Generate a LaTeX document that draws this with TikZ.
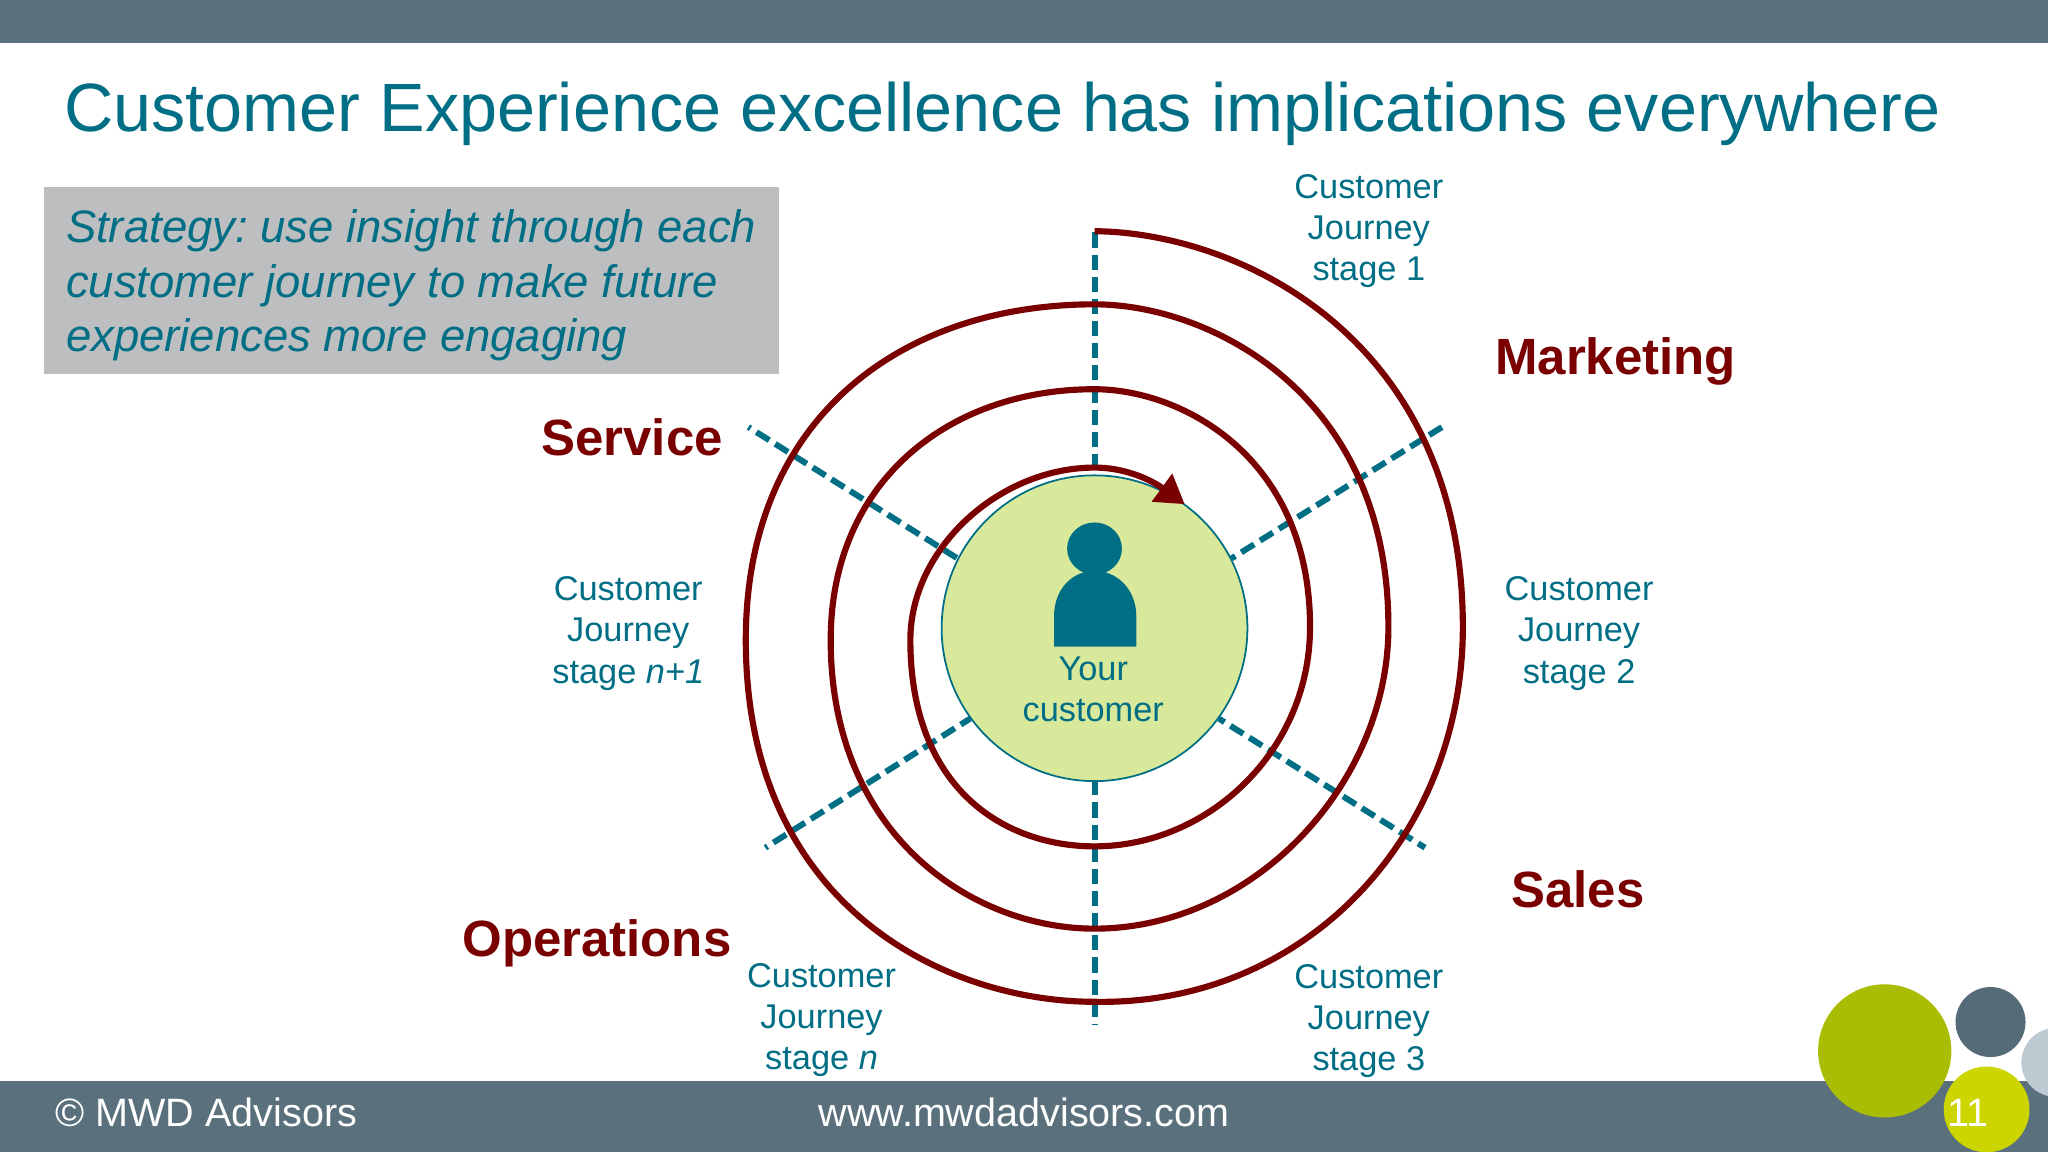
\documentclass[tikz,border=0pt]{standalone}
\usepackage{fontspec}
\setmainfont{Liberation Sans}
\usetikzlibrary{arrows.meta}

\definecolor{barslate}{HTML}{5A717D}
\definecolor{deepteal}{HTML}{006E85}
\definecolor{darkmaroon}{HTML}{7A0000}
\definecolor{palegreen}{HTML}{D9E99B}
\definecolor{boxgrey}{HTML}{BDBEC0}
\definecolor{olivegreen}{HTML}{AABD05}
\definecolor{limegreen}{HTML}{CDD500}
\definecolor{paleslate}{HTML}{BECAD2}

\tikzset{
  stagelabel/.style={text=deepteal,align=center,inner sep=0pt,font=\fontsize{9.77}{11.7}\selectfont},
  deptlabel/.style={text=darkmaroon,inner sep=0pt,font=\fontsize{14.5}{16}\selectfont\bfseries},
  footlabel/.style={text=white,inner sep=0pt,font=\fontsize{11.25}{13}\selectfont},
  spoke/.style={draw=deepteal,line width=1.7pt,dash pattern=on 4.3pt off 2pt},
  spiral/.style={draw=darkmaroon,line width=1.75pt,line join=round}
}

\begin{document}
\frenchspacing
\begin{tikzpicture}[x=0.013061cm,y=-0.013061cm]
\useasboundingbox (0,0) rectangle (1568,882);
\clip (0,0) rectangle (1568,882);
\fill[white] (0,0) rectangle (1568,882);
\fill[barslate] (0,0) rectangle (1568,33);
\fill[barslate] (0,828) rectangle (1568,882);

\node[text=deepteal,inner sep=0pt,font=\fontsize{19.44}{22}\selectfont] (title) at (767.5,87) {Customer Experience excellence has implications everywhere};

\node[fill=boxgrey,anchor=north west,minimum width=209.2pt,minimum height=53.1pt,inner sep=0pt] (strategybox) at (33,143) {};
\node[anchor=west,inner sep=0pt,align=left,text=deepteal,font=\fontsize{12.94}{15.55}\selectfont\itshape] (strategy) at (50,218.5) {Strategy: use insight through each\\customer journey to make future\\experiences more engaging};

% hub and spokes
\node[circle,draw=deepteal,line width=0.5pt,fill=palegreen,minimum size=87pt,inner sep=0pt] (hub) at (838,481) {};
\coordinate (spokeN) at (838,178);
\coordinate (spokeNE) at (1104,327);
\coordinate (spokeSE) at (1091,649);
\coordinate (spokeS) at (838,785);
\coordinate (spokeSW) at (586,649);
\coordinate (spokeNW) at (573,327);
\draw[spoke] (spokeN) -- (hub.north);
\draw[spoke] (spokeNE) -- (hub.27);
\draw[spoke,dash phase=2pt] (spokeSE) -- (hub.324);
\draw[spoke,dash phase=3.9pt] (spokeS) -- (hub.south);
\draw[spoke,dash phase=3.6pt] (spokeSW) -- (hub.216);
\draw[spoke,dash phase=3.6pt] (spokeNW) -- (hub.153);

% person
\fill[deepteal] (838,420) circle [x radius=21,y radius=20];
\fill[deepteal] (807,495) -- (807,472) .. controls (807,450) and (822,437) .. (838,437) .. controls (854,437) and (870,450) .. (870,472) -- (870,495) -- cycle;
\node[stagelabel] (you) at (837,528) {Your\\customer};

% the spiral
\draw[spiral,-{Triangle[length=8pt,width=9.5pt]}] (838,177)
  .. controls (950,178) and (1120,260) .. (1120,480)
  .. controls (1120,640) and (1000,770) .. (838,767)
  .. controls (725,767) and (571,695) .. (571,490)
  .. controls (571,320) and (690,233) .. (838,233)
  .. controls (925,233) and (1063,300) .. (1063,480)
  .. controls (1063,600) and (960,711) .. (838,711)
  .. controls (745,711) and (636,640) .. (636,490)
  .. controls (636,370) and (725,298) .. (838,298)
  .. controls (905,298) and (1003,350) .. (1003,480)
  .. controls (1003,575) and (925,648) .. (838,648)
  .. controls (770,648) and (697,605) .. (697,490)
  .. controls (697,420) and (765,358) .. (838,358)
  .. controls (865,358) and (885,370) .. (907,386);

% labels
\node[deptlabel] (marketing) at (1237,277) {Marketing};
\node[deptlabel] (service) at (484,335) {Service};
\node[deptlabel] (sales) at (1208,681) {Sales};
\node[deptlabel] (operations) at (457,722) {Operations};
\node[stagelabel] (stage1) at (1048,177) {Customer\\Journey\\stage 1};
\node[stagelabel] (stage2) at (1209,485) {Customer\\Journey\\stage 2};
\node[stagelabel] (stage3) at (1048,782) {Customer\\Journey\\stage 3};
\node[stagelabel] (stagen) at (629,781) {Customer\\Journey\\stage \textit{n}};
\node[stagelabel] (stagenext) at (481,485) {Customer\\Journey\\stage \textit{n+1}};

% footer
\node[footlabel,anchor=west] (owner) at (42,852) {© MWD Advisors};
\node[footlabel] (site) at (784,852) {www.mwdadvisors.com};
\fill[olivegreen] (1443,804.6) circle (51);
\fill[barslate!95!black] (1524,782.5) circle (26.8);
\fill[paleslate] (1574,813.4) circle (26.4);
\node[circle,fill=limegreen,minimum size=24.4pt,inner sep=0pt] (pagedot) at (1521,849.4) {};
\node[footlabel] (pagenum) at (1507,852) {11};
\end{tikzpicture}
\end{document}
